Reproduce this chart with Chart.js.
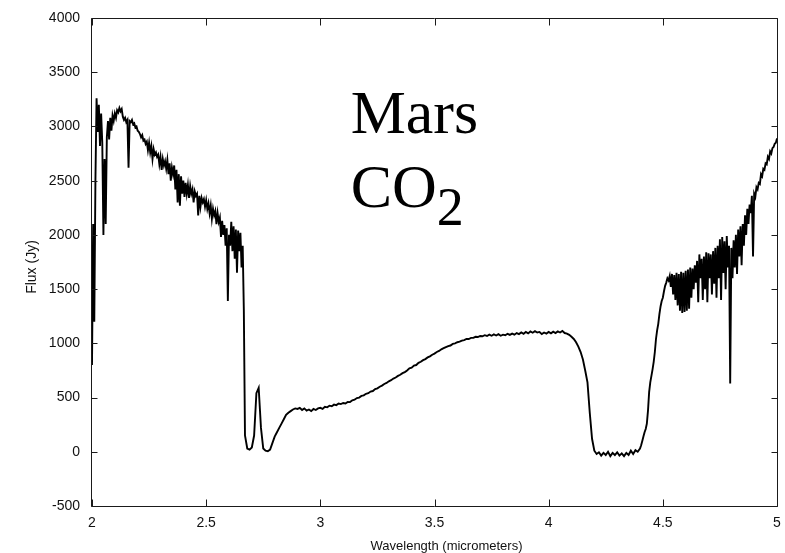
<!DOCTYPE html>
<html>
<head>
<meta charset="utf-8">
<title>Mars CO2 spectrum</title>
<script src="https://cdn.jsdelivr.net/npm/chart.js@4/dist/chart.umd.min.js"></script>
<style>
  html, body { margin: 0; padding: 0; background: #fff; }
  #wrap { width: 785px; height: 553px; }
</style>
</head>
<body>
<div id="wrap"><canvas id="c" width="785" height="553"></canvas></div>
<script>
// Flux (Jy) sampled on regular wavelength grids (micrometers).
// K band, 2.000–2.665 µm every 0.005 µm
const kBandStart = 2.000;
const kBandStep = 0.005;
const kBandFlux = [
  800, 2100, 1200, 2500, 3260, 2950, 3200, 2820, 3120, 2850,
  2000, 2700, 2100, 2900, 3050, 2880, 3080, 2960, 3100, 3050,
  3120, 3080, 3150, 3130, 3170, 3140, 3160, 3090, 3060, 3080,
  3040, 3060, 2620, 3050, 3040, 3060, 3020, 3030, 2990, 3000,
  2960, 2950, 2930, 2900, 2920, 2870, 2880, 2840, 2860, 2780,
  2850, 2760, 2820, 2700, 2790, 2740, 2760, 2720, 2740, 2650,
  2720, 2600, 2700, 2640, 2680, 2610, 2690, 2560, 2660, 2500,
  2620, 2560, 2640, 2420, 2600, 2300, 2560, 2270, 2540, 2380,
  2500, 2350, 2480, 2380, 2460, 2340, 2450, 2380, 2420, 2300,
  2400, 2360, 2380, 2180, 2360, 2260, 2340, 2300, 2330, 2260,
  2320, 2240, 2290, 2200, 2270, 2150, 2240, 2180, 2220, 2100,
  2200, 2120, 2160, 1980, 2130, 2000, 2090, 1900, 2060, 1390,
  2000, 1900, 2120, 1850, 2080, 1780, 2050, 1650, 2040, 1850,
  2020, 1700, 1900, 1300
];

// 2.7 µm CO2 band, 3 µm continuum and 4.3 µm CO2 band, 2.67–4.40 µm every 0.01 µm
const midStart = 2.67;
const midStep = 0.01;
const midFlux = [
  150, 30, 20, 40, 150, 540, 590, 220, 30, 10,
  5, 20, 80, 140, 180, 220, 260, 300, 340, 360,
  375, 390, 400, 395, 405, 385, 400, 380, 390, 375,
  395, 385, 400, 405, 395, 415, 410, 425, 420, 435,
  430, 445, 440, 450, 445, 460, 458, 475, 480, 495,
  500, 515, 520, 535, 540, 555, 560, 578, 585, 600,
  610, 625, 635, 650, 660, 675, 685, 700, 710, 725,
  735, 750, 770, 775, 795, 800, 820, 830, 845, 855,
  870, 880, 895, 905, 920, 930, 945, 955, 965, 975,
  980, 995, 1000, 1010, 1015, 1025, 1030, 1040, 1040, 1050,
  1050, 1060, 1058, 1068, 1065, 1075, 1068, 1080, 1070, 1082,
  1072, 1085, 1070, 1080, 1075, 1088, 1078, 1090, 1080, 1095,
  1085, 1100, 1088, 1105, 1092, 1110, 1098, 1112, 1100, 1105,
  1085, 1100, 1090, 1105, 1092, 1108, 1095, 1110, 1100, 1115,
  1095, 1090, 1078, 1060, 1040, 1010, 970, 920, 850, 750,
  640, 360, 120, 10, -20, -5, -35, -10, -30, 0,
  -40, -10, -30, -5, -35, -15, -40, -10, -30, 10,
  -20, 15, 0, 30
];

// L band, 4.405–5.000 µm every 0.005 µm
const lBandStart = 4.405;
const lBandStep = 0.005;
const lBandFlux = [
  60, 100, 140, 180, 210, 260, 380, 550, 640, 700,
  760, 830, 920, 1040, 1120, 1180, 1270, 1340, 1390, 1420,
  1480, 1530, 1560, 1600, 1580, 1620, 1520, 1640, 1450, 1630,
  1400, 1650, 1350, 1640, 1300, 1660, 1280, 1650, 1290, 1670,
  1300, 1680, 1320, 1700, 1420, 1690, 1500, 1720, 1560, 1760,
  1380, 1820, 1600, 1780, 1400, 1800, 1500, 1840, 1380, 1830,
  1600, 1820, 1450, 1850, 1550, 1880, 1420, 1900, 1600, 1960,
  1400, 1980, 1650, 1940, 1500, 1990, 1700, 1900, 630, 1880,
  1600, 1950, 1700, 2000, 1640, 2050, 1800, 2080, 1720, 2100,
  1900, 2180, 2000, 2240, 2100, 2280, 2200, 2360, 1800, 2380,
  2350, 2440, 2420, 2480, 2470, 2560, 2540, 2610, 2600, 2660,
  2650, 2720, 2700, 2770, 2750, 2800, 2810, 2840, 2850, 2890
];

// Axis tick values
const xTickValues = [2, 2.5, 3, 3.5, 4, 4.5, 5];
const yTickValues = [-500, 0, 500, 1000, 1500, 2000, 2500, 3000, 3500, 4000];
const xAxisTitle = 'Wavelength (micrometers)';
const yAxisTitle = 'Flux (Jy)';

// Annotation text and where it sits (in data units)
const titleLines = ['Mars', 'CO'];
const titleSub = '2';
const titleAnchor = { x: 3.133, y1: 2944, y2: 2261 };

function toPoints(start, step, values) {
  return values.map((v, i) => ({ x: Math.round((start + i * step) * 1000) / 1000, y: v }));
}
const spectrum = [].concat(
  toPoints(kBandStart, kBandStep, kBandFlux),
  toPoints(midStart, midStep, midFlux),
  toPoints(lBandStart, lBandStep, lBandFlux)
);

const sansFamily = "'Liberation Sans', Arial, sans-serif";
const tickFont = { family: sansFamily, size: 14 };

function noEdgePadding(s) {
  s.paddingLeft = 0; s.paddingRight = 0; s.paddingTop = 0; s.paddingBottom = 0;
}

// Frame, inward mirrored ticks, axis titles and the large serif label
const framePlugin = {
  id: 'frame',
  afterDraw(chart) {
    const { ctx, chartArea, scales } = chart;
    const { left, right, top, bottom } = chartArea;
    const xs = scales.x, ys = scales.y;
    ctx.save();
    ctx.strokeStyle = '#1a1a1a';
    ctx.lineWidth = 1;
    const L = Math.round(left) - 0.5, R = Math.round(right) + 0.5;
    const T = Math.round(top) + 0.5, B = Math.round(bottom) + 0.5;
    ctx.beginPath();
    ctx.rect(L, T, R - L, B - T);
    xTickValues.forEach(v => {
      const px = Math.round(xs.getPixelForValue(v)) + 0.5;
      ctx.moveTo(px, B); ctx.lineTo(px, B - 7);
      ctx.moveTo(px, T); ctx.lineTo(px, T + 7);
    });
    yTickValues.forEach(v => {
      const py = Math.round(ys.getPixelForValue(v)) + 0.5;
      ctx.moveTo(L, py); ctx.lineTo(L + 6, py);
      ctx.moveTo(R, py); ctx.lineTo(R - 6, py);
    });
    ctx.stroke();

    // axis titles
    ctx.fillStyle = '#111';
    ctx.textAlign = 'center';
    ctx.textBaseline = 'middle';
    ctx.font = '13px ' + sansFamily;
    ctx.fillText(xAxisTitle, (left + right) / 2 + 12, bottom + 40);
    ctx.save();
    ctx.translate(32, (top + bottom) / 2 + 5);
    ctx.rotate(-Math.PI / 2);
    ctx.font = '14px ' + sansFamily;
    ctx.fillText(yAxisTitle, 0, 0);
    ctx.restore();

    // large label
    ctx.fillStyle = '#000';
    ctx.textBaseline = 'alphabetic';
    ctx.textAlign = 'left';
    ctx.font = "62px 'Liberation Serif', 'Times New Roman', serif";
    const tx = xs.getPixelForValue(titleAnchor.x);
    const b1 = ys.getPixelForValue(titleAnchor.y1);
    const b2 = ys.getPixelForValue(titleAnchor.y2);
    ctx.fillText(titleLines[0], tx, b1);
    ctx.fillText(titleLines[1], tx, b2);
    const w = ctx.measureText(titleLines[1]).width;
    ctx.font = "54px 'Liberation Serif', 'Times New Roman', serif";
    ctx.fillText(titleSub, tx + w, b2 + 18);
    ctx.restore();
  }
};

new Chart(document.getElementById('c'), {
  type: 'line',
  data: {
    datasets: [{
      data: spectrum,
      borderColor: '#000',
      borderWidth: 1.9,
      pointRadius: 0,
      tension: 0,
      fill: false
    }]
  },
  options: {
    responsive: false,
    animation: false,
    devicePixelRatio: 1,
    layout: { padding: { top: 18, right: 8, bottom: 0, left: 0 } },
    plugins: { legend: { display: false }, tooltip: { enabled: false } },
    scales: {
      x: {
        type: 'linear',
        min: 2, max: 5,
        afterBuildTicks(s) { s.ticks = xTickValues.map(v => ({ value: v })); },
        afterFit(s) { s.height = 47; noEdgePadding(s); },
        grid: { display: false, drawTicks: false },
        border: { display: false },
        ticks: {
          padding: 9, color: '#111', font: tickFont, maxRotation: 0, autoSkip: false,
          callback: v => String(v)
        },
        title: { display: false }
      },
      y: {
        type: 'linear',
        min: -500, max: 4000,
        afterBuildTicks(s) { s.ticks = yTickValues.map(v => ({ value: v })); },
        afterFit(s) { s.width = 92; noEdgePadding(s); },
        grid: { display: false, drawTicks: false },
        border: { display: false },
        ticks: {
          padding: 12, color: '#111', font: tickFont, autoSkip: false,
          callback: v => String(v)
        },
        title: { display: false }
      }
    }
  },
  plugins: [framePlugin]
});
</script>
</body>
</html>
